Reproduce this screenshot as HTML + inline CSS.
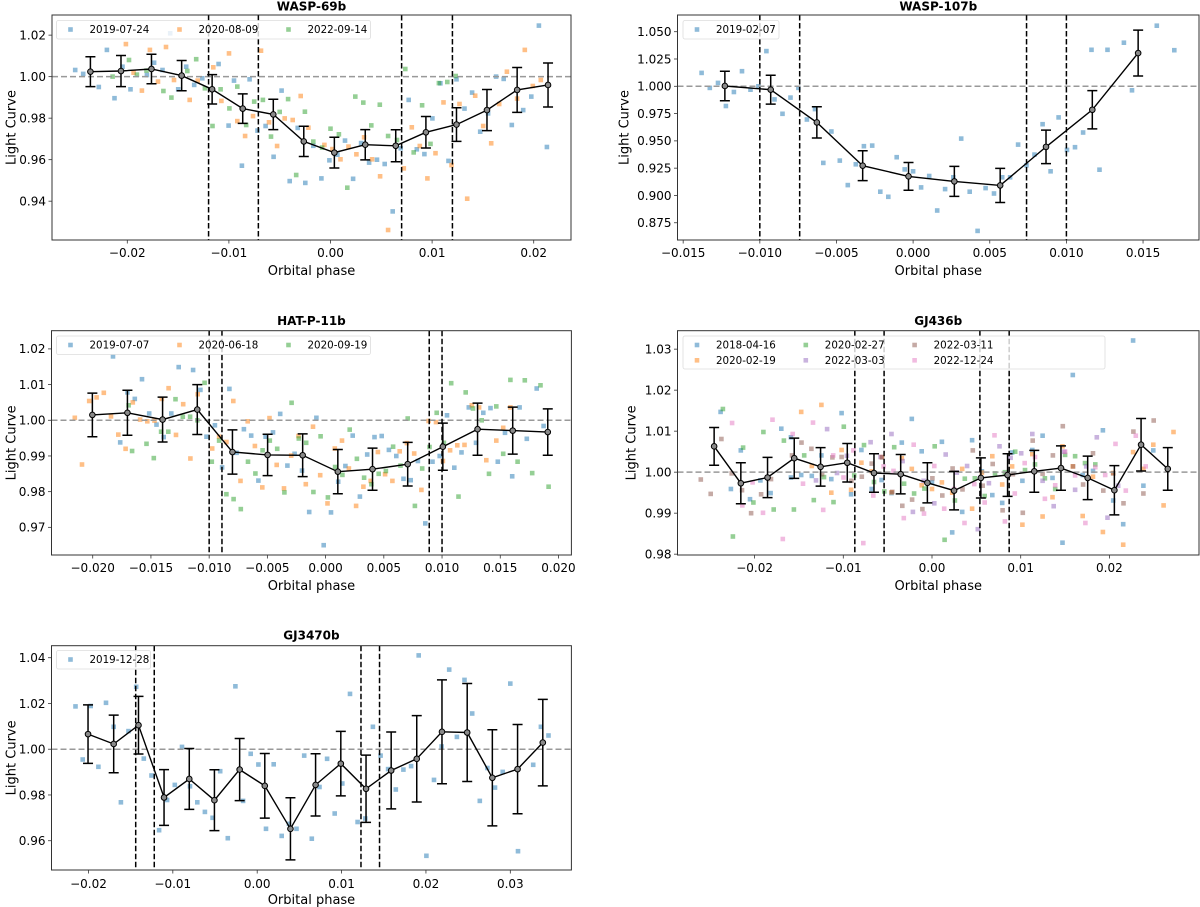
<!DOCTYPE html>
<html><head><meta charset="utf-8"><style>
html,body{margin:0;padding:0;background:#fff;}
svg{display:block;font-family:"DejaVu Sans","Liberation Sans",sans-serif;}
</style></head><body>
<svg id="fig" width="1200" height="907" viewBox="0 0 1200 907"></svg>
<script>
// ===== WASP-69b =====
const w69_b_x=[-0.02513,-0.02434,-0.0228,-0.02201,-0.02126,-0.02047,-0.01968,-0.01807,-0.01736,-0.01653,-0.01578,-0.01499,-0.0142,-0.01341,-0.01262,-0.01101,-0.01003,-0.0095,-0.00872,-0.00796,-0.00718,-0.00639,-0.0056,-0.00481,-0.00402,-0.00323,-0.00248,-0.00169,-0.0009,-0.00011,0.00068,0.00143,0.00222,0.00301,0.0038,0.00458,0.00533,0.00612,0.00691,0.0077,0.00849,0.00924,0.01003,0.01082,0.01161,0.0124,0.01319,0.01394,0.01473,0.01551,0.0163,0.01705,0.01784,0.01897,0.01976,0.02051,0.0213];
const w69_b_y=[1.0032,1.0013,0.995,1.0129,0.9896,1.0048,0.9939,1.0008,1.0067,1.0032,1.0209,0.9939,1.0048,0.996,0.9992,1.0061,0.9764,0.9981,0.9571,0.9987,0.974,0.9762,0.9614,0.9933,0.9497,0.9753,0.9488,0.9667,0.951,0.9597,0.9624,0.9692,0.9508,0.968,0.9586,0.96,0.9579,0.9351,0.9655,0.9888,0.965,0.9627,0.9799,0.9968,0.9594,0.9987,0.9846,0.9923,0.9735,0.9823,1.0,0.9989,0.9767,0.9839,0.9904,1.0246,0.9661];
const w69_o_x=[-0.02014,-0.01938,-0.01856,-0.01777,-0.01698,-0.01619,-0.0154,-0.01386,-0.01307,-0.01153,-0.01074,-0.00999,-0.00917,-0.00841,-0.00763,-0.00684,-0.00605,-0.00526,-0.00451,-0.00372,-0.00293,-0.00218,-0.0006,0.00019,0.00098,0.00177,0.00255,0.00331,0.00409,0.00488,0.00567,0.00721,0.008,0.00879,0.00954,0.01033,0.01112,0.01191,0.0127,0.01345,0.01424,0.01503,0.01582,0.0166,0.01736,0.01837,0.01912,0.01991,0.0207];
const w69_o_y=[1.0157,1.0019,0.9933,1.0129,0.9976,1.0143,0.9984,0.9888,0.9981,1.0045,0.9883,1.0112,0.9786,0.9714,0.981,1.0125,0.978,0.9666,0.9799,0.9791,0.9907,0.9754,0.9671,0.9651,0.9602,0.9663,0.9626,0.9708,0.9602,0.952,0.9261,0.9558,0.9756,0.9666,0.951,0.9631,0.9876,0.9574,0.9868,0.9412,0.9908,0.9762,0.9679,0.9868,1.0024,0.9894,1.0129,0.9955,0.9984];
const w69_g_x=[-0.02145,-0.01983,-0.01905,-0.01811,-0.01645,-0.01566,-0.01409,-0.01322,-0.01236,-0.01161,-0.01082,-0.00995,-0.00917,-0.0083,-0.00751,-0.00665,-0.00586,-0.005,-0.00417,-0.00338,-0.00252,-0.00169,-0.00083,0,0.00083,0.00165,0.00244,0.00323,0.00402,0.00485,0.00567,0.00654,0.00736,0.00819,0.00902,0.00984,0.01067,0.0115,0.01232];
const w69_g_y=[1.0,1.008,1.001,1.0029,0.9931,0.9899,1.0027,1.0084,0.9944,0.9762,0.9939,0.9847,0.9952,0.9767,0.988,0.9888,0.9711,0.983,0.9892,0.9526,0.9831,0.9687,0.9658,0.9749,0.9722,0.9465,0.9904,0.9875,0.9765,0.9865,0.9714,0.9695,1.0037,0.9635,0.9862,0.9676,0.9969,0.9974,1.0003];
const w69_bin_x=[-0.02363,-0.02062,-0.01762,-0.01465,-0.01165,-0.00864,-0.00563,-0.00263,0.00038,0.00342,0.00642,0.00939,0.0124,0.0154,0.01837,0.02141];
const w69_bin_y=[1.0024,1.0027,1.0037,1.0005,0.9939,0.9846,0.9818,0.9688,0.9634,0.9672,0.9667,0.9732,0.9769,0.9839,0.9936,0.996];
const w69_bin_e=[0.0072,0.0075,0.0071,0.0073,0.0071,0.0071,0.0073,0.0073,0.0074,0.0073,0.0077,0.0076,0.0081,0.0099,0.0108,0.0106];
const w69_vlines=[-0.012,-0.0071,0.007,0.012];
const w69_legend=["2019-07-24","2020-08-09","2022-09-14"];
const w69_xticks=[-0.02,-0.01,0,0.01,0.02];
const w69_xlabels=["−0.02","−0.01","0.00","0.01","0.02"];
const w69_yticks=[0.94,0.96,0.98,1.0,1.02];
const w69_ylabels=["0.94","0.96","0.98","1.00","1.02"];

// ===== WASP-107b =====
const w107_b_x=[-0.0138,-0.01326,-0.01273,-0.01221,-0.01169,-0.01116,-0.01061,-0.01009,-0.00957,-0.00904,-0.00852,-0.008,-0.00748,-0.00693,-0.0064,-0.00586,-0.00533,-0.00478,-0.00426,-0.00374,-0.00321,-0.00267,-0.00214,-0.00162,-0.00107,-0.00055,0,0.00052,0.00105,0.00157,0.00209,0.00262,0.00314,0.00369,0.00421,0.00473,0.00528,0.00581,0.00633,0.00685,0.0074,0.00792,0.00845,0.00897,0.00949,0.01004,0.01056,0.01109,0.01164,0.01216,0.01268,0.01375,0.01428,0.0159,0.01704];
const w107_b_y=[1.0123,0.9985,1.0031,0.9819,0.9948,1.0138,0.9969,1.0,1.0322,0.988,0.9748,0.9896,0.9985,0.9696,0.9791,0.9298,0.9586,0.9319,0.9095,0.9285,0.9451,0.9457,0.9034,0.8988,0.935,0.9239,0.9221,0.9074,0.9178,0.8862,0.9058,0.9166,0.9521,0.9034,0.8675,0.9067,0.9018,0.9166,0.9166,0.9466,0.9276,0.9374,0.9653,0.9221,0.9715,0.9417,0.9442,0.9577,1.0334,0.9236,1.0334,1.0399,0.9963,1.0555,1.0331];
const w107_bin_x=[-0.01228,-0.00929,-0.00628,-0.00329,-0.0003,0.00269,0.00568,0.00867,0.01169,0.01468];
const w107_bin_y=[1.0003,0.9969,0.9669,0.9273,0.9175,0.9129,0.9092,0.9445,0.9785,1.0304];
const w107_bin_e=[0.0135,0.0132,0.0143,0.0137,0.0127,0.0137,0.0156,0.0153,0.0175,0.021];
const w107_vlines=[-0.01,-0.0074,0.0074,0.01];
const w107_legend=["2019-02-07"];
const w107_xticks=[-0.015,-0.01,-0.005,0,0.005,0.01,0.015];
const w107_xlabels=["−0.015","−0.010","−0.005","0.000","0.005","0.010","0.015"];
const w107_yticks=[0.875,0.9,0.925,0.95,0.975,1.0,1.025,1.05];
const w107_ylabels=["0.875","0.900","0.925","0.950","0.975","1.000","1.025","1.050"];

// ===== HAT-P-11b =====
const h11_b_x=[-0.01826,-0.01764,-0.01702,-0.01639,-0.01577,-0.01515,-0.01452,-0.0139,-0.01325,-0.01262,-0.01138,-0.01075,-0.01023,-0.00951,-0.00889,-0.00826,-0.00764,-0.00702,-0.00639,-0.00577,-0.00515,-0.00452,-0.0039,-0.00328,-0.00266,-0.00203,-0.00141,-0.00079,-0.00016,0.00046,0.00108,0.0017,0.00233,0.00295,0.00357,0.0042,0.00482,0.00544,0.00607,0.00669,0.00731,0.00793,0.00856,0.00918,0.0098,0.01043,0.01105,0.01167,0.0123,0.01292,0.01354,0.01416,0.01479,0.01541,0.01603,0.01666,0.01728,0.01813,0.01872];
const h11_b_y=[1.0179,0.9938,1.0078,1.006,1.0115,1.0019,0.9988,0.9953,1.0019,1.0149,1.0141,1.0085,0.9954,0.9986,0.9868,1.0088,0.9909,0.9975,0.9957,0.9831,0.9954,0.9966,1.0018,0.9873,0.9906,0.9859,0.9743,1.0007,0.965,0.9742,0.9828,0.9872,0.9957,0.9786,0.9904,0.9953,0.9956,0.9917,0.99,0.9836,0.9832,0.9886,0.9711,0.9884,0.99,1.0014,0.9867,0.991,1.0036,0.9937,1.0021,1.0034,0.9884,0.9965,0.9843,1.0036,0.9948,1.0089,0.9984];
const h11_o_x=[-0.02154,-0.02092,-0.0203,-0.01967,-0.01905,-0.01843,-0.0178,-0.01718,-0.01656,-0.01593,-0.01531,-0.01469,-0.01407,-0.01348,-0.01285,-0.01223,-0.01161,-0.01098,-0.00974,-0.00915,-0.00852,-0.00793,-0.00731,-0.00669,-0.00607,-0.00544,-0.00482,-0.0042,-0.00357,-0.00295,-0.00233,-0.0017,-0.00108,-0.00046,0.00016,0.00079,0.00141,0.002,0.00262,0.00325,0.00387,0.00449,0.00511,0.00574,0.00636,0.00698,0.00761,0.00823,0.00885,0.00948,0.01007,0.01069,0.01131,0.01193,0.01256,0.01318,0.0138,0.01466,0.01525,0.01587];
const h11_o_y=[1.0007,0.9876,1.0054,1.0064,1.0077,1.0011,0.996,0.992,1.005,1.0002,0.9997,0.9999,1.006,1.009,0.9959,1.0045,0.9893,1.0073,0.9921,0.9954,0.9939,1.0054,0.983,0.9997,0.9928,0.9812,1.0006,0.9875,0.9809,0.9901,0.9956,0.9821,0.9982,0.9846,0.9767,0.9921,0.9943,0.9865,0.976,0.9814,0.983,0.9911,0.9849,0.983,0.9913,0.9936,0.9907,0.9805,0.9998,0.9995,0.9886,0.9916,0.993,0.9931,1.0042,1.0036,0.9888,0.9943,0.9979,1.0036];
const h11_g_x=[-0.01692,-0.01662,-0.01538,-0.01475,-0.01413,-0.01351,-0.01289,-0.01226,-0.01164,-0.01102,-0.01039,-0.00977,-0.00915,-0.00852,-0.0079,-0.00728,-0.00666,-0.00603,-0.00541,-0.00479,-0.00416,-0.00354,-0.00292,-0.0023,-0.00167,-0.00105,-0.00043,0.0002,0.00082,0.00144,0.00207,0.00269,0.00331,0.00393,0.00456,0.00518,0.0058,0.00643,0.00705,0.00767,0.0083,0.00892,0.00954,0.01016,0.01079,0.01141,0.01203,0.01266,0.01341,0.01403,0.01466,0.01525,0.01587,0.01649,0.01711,0.01774,0.01846,0.01915];
const h11_g_y=[1.0042,0.9914,0.9934,0.9894,0.9968,0.9968,1.0059,1.001,1.001,1.0,1.0105,0.9884,0.9943,0.9793,0.9779,0.9751,0.9884,0.9851,0.9916,0.9943,0.992,0.9798,1.0049,0.9949,0.9937,0.9799,0.9955,0.9784,0.9869,0.9847,0.9974,0.9892,0.9839,0.9821,0.985,0.9858,0.9926,0.9873,1.0005,0.976,0.9865,0.9925,1.0021,0.9937,1.0104,0.9786,1.0078,1.0033,1.0,0.985,1.0039,0.9906,1.0113,0.9884,1.0112,0.9852,1.0098,0.9814];
const h11_bin_x=[-0.02003,-0.01702,-0.014,-0.01102,-0.008,-0.00498,-0.00197,0.00105,0.00403,0.00705,0.01007,0.01305,0.01607,0.01908];
const h11_bin_y=[1.0015,1.0021,1.0002,1.003,0.9911,0.9903,0.9902,0.9856,0.9863,0.9877,0.9926,0.9975,0.9971,0.9967];
const h11_bin_e=[0.0061,0.0063,0.0063,0.007,0.0062,0.0058,0.006,0.0062,0.0059,0.0061,0.0066,0.0073,0.0066,0.0065];
const h11_vlines=[-0.01,-0.0089,0.0089,0.01];
const h11_legend=["2019-07-07","2020-06-18","2020-09-19"];
const h11_xticks=[-0.02,-0.015,-0.01,-0.005,0,0.005,0.01,0.015,0.02];
const h11_xlabels=["−0.020","−0.015","−0.010","−0.005","0.000","0.005","0.010","0.015","0.020"];
const h11_yticks=[0.97,0.98,0.99,1.0,1.01,1.02];
const h11_ylabels=["0.97","0.98","0.99","1.00","1.01","1.02"];

// ===== GJ436b =====
const g436_1_x=[-0.02383,-0.02155,-0.02267,-0.02052,-0.01935,-0.01819,-0.01699,-0.01591,-0.01591,-0.01475,-0.01355,-0.01247,-0.01135,-0.01019,-0.00912,-0.00796,-0.0068,-0.00568,-0.00456,-0.0034,-0.00228,-0.00116,0,0.00112,0.00228,0.0034,0.00452,0.00563,0.0068,0.00791,0.00903,0.01019,0.01131,0.01247,0.01359,0.01471,0.01587,0.01699,0.01815,0.01927,0.02043,0.02155,0.02267,0.02383,0.02495];
const g436_1_y=[1.0147,1.0053,0.9959,0.9934,0.998,0.9949,1.0106,1.0085,0.9987,0.9993,0.9991,1.0041,0.9983,1.0144,0.9946,1.0054,0.9959,0.9981,0.9949,1.0072,1.013,1.0051,0.9975,1.0074,0.9853,0.9903,1.0078,1.0002,0.9944,0.9925,1.0048,0.9979,1.0054,1.0089,0.9986,0.9828,1.0237,0.9993,1.0003,1.0102,0.9931,0.9873,1.0321,0.9967,1.0053];
const g436_2_x=[-0.01475,-0.01355,-0.01247,-0.01135,-0.01019,-0.00912,-0.00796,-0.0068,-0.00568,-0.00456,-0.0034,-0.00228,-0.00116,0,0.00112,0.00228,0.0034,0.00452,0.00563,0.0068,0.00791,0.00903,0.01019,0.01131,0.01247,0.01359,0.01471,0.01587,0.01699,0.01815,0.01927,0.02043,0.02155,0.02267,0.02383,0.02495,0.02611,0.02723];
const g436_2_y=[1.0147,1.0015,1.0164,0.995,1.0054,0.9957,1.0023,1.0002,1.0037,0.9951,1.0034,1.0008,0.9968,0.9959,0.9975,0.995,1.0008,0.9911,0.9999,1.0039,0.997,1.0014,0.9872,1.0044,0.9892,0.9939,1.0063,1.0014,0.9893,0.9989,0.9854,0.9998,0.9823,1.0049,1.0008,1.0067,0.9919,1.0098];
const g436_3_x=[-0.02357,-0.02245,-0.02129,-0.02013,-0.01901,-0.01785,-0.01669,-0.01557,-0.01441,-0.01333,-0.01217,-0.0111,-0.00994,-0.00877,-0.00766,-0.00654,-0.00538,-0.00426,-0.00314,-0.00202,-0.00086,0.0003,0.00142,0.00258,0.0037,0.00482,0.00594,0.0071,0.00822,0.00938,0.01049,0.01161,0.01273,0.01389,0.01501,0.01613,0.01725,0.01841];
const g436_3_y=[1.0154,0.9843,1.006,0.9926,1.0098,0.9909,1.0077,0.9909,1.0041,0.9932,0.9988,0.9927,1.0111,0.9992,1.0066,0.9976,0.9953,1.0061,0.9972,0.9948,0.996,1.0063,0.9835,0.9931,0.9984,0.9985,0.9942,0.9997,1.0,1.005,1.0005,1.0019,0.9985,0.9959,1.0042,1.0039,1.0022,1.0019];
const g436_4_x=[-0.01308,-0.01183,-0.01071,-0.00959,-0.00692,-0.00581,-0.00456,-0.00331,-0.00215,-0.00095,0.00026,0.00155,0.0028,0.00396,0.00516,0.00641,0.00761,0.00886,0.01006,0.01131,0.01247,0.01372,0.01492,0.01613,0.01738,0.01858,0.01978,0.02099];
const g436_4_y=[0.998,1.0105,0.9998,1.004,1.0073,1.0037,1.0093,1.0027,0.9903,0.9979,0.9924,1.0043,0.9999,1.0015,0.9861,0.9973,1.0063,1.0035,1.0046,1.0093,0.9979,0.9917,1.005,0.9957,1.0014,1.0085,0.9889,0.9967];
const g436_5_x=[-0.02606,-0.02495,-0.02374,-0.02258,-0.02142,-0.02039,-0.01927,-0.01815,-0.01578,-0.01471,-0.01359,-0.01239,-0.01123,-0.01019,-0.00908,-0.00791,-0.0068,-0.00563,-0.00447,-0.00335,-0.00224,-0.00108,0.00004,0.00116,0.00232,0.00344,0.0046,0.00572,0.00684,0.00796,0.00912,0.01024,0.01135,0.01247,0.01363,0.01475,0.01591,0.01703,0.01815,0.01931,0.02043,0.02159,0.02271,0.02383,0.02499];
const g436_5_y=[0.9982,0.9947,1.0081,0.9997,0.9956,0.99,0.9946,0.9983,1.0041,1.0072,1.0057,0.9995,1.0036,1.0037,0.9979,0.9989,1.0021,1.0036,0.9952,0.9918,0.9933,0.991,0.9985,0.9943,1.0009,0.9958,1.0053,0.9967,1.002,0.9907,0.9995,0.9901,1.0077,0.9996,1.0041,1.0112,1.0014,0.997,1.0046,0.9955,0.9997,0.9924,1.0099,0.9948,1.0126];
const g436_6_x=[-0.02254,-0.02138,-0.02022,-0.01905,-0.01798,-0.01682,-0.0157,-0.01454,-0.01342,-0.01226,-0.01114,-0.00998,-0.00886,-0.00774,-0.00662,-0.00546,-0.00434,-0.00318,-0.00206,-0.0009,0.00026,0.00138,0.00249,0.00366,0.00477,0.00594,0.00705,0.00822,0.00933,0.01045,0.01161,0.01273,0.01389,0.01501,0.01613,0.01729,0.01841,0.01953,0.02069,0.02185,0.02297,0.02409];
const g436_6_y=[1.012,0.9919,0.9975,0.9901,1.0128,0.9837,1.0093,0.9972,1.0121,0.9908,1.0041,0.9987,1.0053,0.9827,0.9943,1.0014,1.0003,0.9888,1.0067,0.9899,1.0015,0.9911,0.9959,0.9876,0.9971,0.9926,1.009,0.988,0.9948,1.0022,1.0037,0.9935,0.9968,1.005,0.9992,0.9876,1.0012,0.9993,1.0069,0.9955,1.0089,1.0014];
const g436_bin_x=[-0.02456,-0.02155,-0.01854,-0.01553,-0.01256,-0.00955,-0.00654,-0.00353,-0.00052,0.00249,0.00551,0.00852,0.01153,0.01454,0.01755,0.02056,0.02357,0.02658];
const g436_bin_y=[1.0063,0.9973,0.9987,1.0034,1.0013,1.0023,0.9998,0.9995,0.9974,0.9955,0.9986,0.9993,1.0002,1.001,0.9986,0.9956,1.0067,1.0008];
const g436_bin_e=[0.0046,0.005,0.0049,0.0049,0.0047,0.0047,0.0047,0.0048,0.0049,0.0047,0.0049,0.0052,0.0051,0.0054,0.0053,0.006,0.0064,0.0052];
const g436_vlines=[-0.0087,-0.0054,0.0054,0.0087];
const g436_legend=["2018-04-16","2020-02-19","2020-02-27","2022-03-03","2022-03-11","2022-12-24"];
const g436_xticks=[-0.02,-0.01,0,0.01,0.02];
const g436_xlabels=["−0.02","−0.01","0.00","0.01","0.02"];
const g436_yticks=[0.98,0.99,1.0,1.01,1.02,1.03];
const g436_ylabels=["0.98","0.99","1.00","1.01","1.02","1.03"];

// ===== GJ3470b =====
const g3470_b_x=[-0.02154,-0.02068,-0.01973,-0.01882,-0.01792,-0.01701,-0.01615,-0.01525,-0.01434,-0.01344,-0.01253,-0.01163,-0.01068,-0.00977,-0.00891,-0.00796,-0.0071,-0.0062,-0.00529,-0.00439,-0.00348,-0.00258,-0.00167,-0.00077,0.00014,0.00104,0.00195,0.0029,0.00376,0.00466,0.00557,0.00647,0.00738,0.00828,0.00919,0.01009,0.011,0.0119,0.01281,0.01371,0.01462,0.01552,0.01643,0.01733,0.01824,0.01914,0.02005,0.02095,0.02186,0.02276,0.02367,0.02457,0.02548,0.02638,0.02729,0.02819,0.0291,0.03,0.03091,0.03271,0.03362,0.03452];
const g3470_b_y=[1.0187,0.9955,1.0189,0.9923,1.0203,1.0098,0.9768,1.0079,1.0273,0.9959,0.9885,0.9646,0.9778,0.9844,1.001,0.9838,0.9768,0.9726,0.97,0.9904,0.9611,1.0275,0.9774,0.998,0.9933,0.9652,0.9934,0.9621,0.9674,0.9652,0.9972,0.9609,0.9835,0.9958,0.9719,0.985,1.0242,0.9682,0.9697,1.0098,0.9972,0.9913,0.9824,0.9911,0.9926,1.041,0.9534,0.9866,1.0012,1.0348,1.0054,1.0303,1.0156,0.9774,0.9918,0.9832,0.9901,1.0287,0.9554,0.9932,1.0098,1.006];
const g3470_bin_x=[-0.02005,-0.01701,-0.01407,-0.01104,-0.00805,-0.00507,-0.00208,0.0009,0.00394,0.00692,0.00991,0.0129,0.01588,0.01891,0.0219,0.02489,0.02787,0.03086,0.03385];
const g3470_bin_y=[1.0066,1.0023,1.0105,0.9789,0.987,0.9777,0.9911,0.984,0.9652,0.9844,0.9937,0.9827,0.9907,0.9958,1.0076,1.0073,0.9875,0.9913,1.0029];
const g3470_bin_e=[0.0128,0.0126,0.0126,0.0122,0.0133,0.0133,0.0136,0.0141,0.0136,0.0136,0.0141,0.0147,0.0168,0.0189,0.0227,0.0214,0.021,0.0195,0.0189];
const g3470_vlines=[-0.0144,-0.0122,0.0123,0.0145];
const g3470_legend=["2019-12-28"];
const g3470_xticks=[-0.02,-0.01,0,0.01,0.02,0.03];
const g3470_xlabels=["−0.02","−0.01","0.00","0.01","0.02","0.03"];
const g3470_yticks=[0.96,0.98,1.0,1.02,1.04];
const g3470_ylabels=["0.96","0.98","1.00","1.02","1.04"];

const COLORS=["#1f77b4","#ff7f0e","#2ca02c","#9467bd","#8c564b","#e377c2"];
const NS="http://www.w3.org/2000/svg";
const svg=document.getElementById("fig");
function mk(tag,attrs,parent){const e=document.createElementNS(NS,tag);for(const k in attrs)e.setAttribute(k,attrs[k]);(parent||svg).appendChild(e);return e;}

const panels=[
 {id:"wasp-69b",title:"WASP-69b",box:[52,15,571,240],xr:[-0.02741,0.02367],yr:[0.9213,1.0297],
  series:[[w69_b_x,w69_b_y,0],[w69_o_x,w69_o_y,1],[w69_g_x,w69_g_y,2]],bx:w69_bin_x,by:w69_bin_y,be:w69_bin_e,vl:w69_vlines,
  leg:w69_legend,legpos:{x:56.5,y:20.5,w:314,h:18.5,cols:3,colw:109,rows:1},
  xt:w69_xticks,xl:w69_xlabels,yt:w69_yticks,yl:w69_ylabels,titleY:10.5,tickY:257,xlabY:275,ylabX:12},
 {id:"wasp-107b",title:"WASP-107b",box:[677.5,15,1199,240],xr:[-0.01537,0.01865],yr:[0.8592,1.0653],
  series:[[w107_b_x,w107_b_y,0]],bx:w107_bin_x,by:w107_bin_y,be:w107_bin_e,vl:w107_vlines,
  leg:w107_legend,legpos:{x:683,y:20.5,w:96,h:18.5,cols:1,colw:109,rows:1},
  xt:w107_xticks,xl:w107_xlabels,yt:w107_yticks,yl:w107_ylabels,titleY:10.5,tickY:257,xlabY:275,ylabX:625},
 {id:"hat-p-11b",title:"HAT-P-11b",box:[51.5,330.7,571.4,555],xr:[-0.02354,0.02111],yr:[0.96225,1.0251],
  series:[[h11_b_x,h11_b_y,0],[h11_o_x,h11_o_y,1],[h11_g_x,h11_g_y,2]],bx:h11_bin_x,by:h11_bin_y,be:h11_bin_e,vl:h11_vlines,
  leg:h11_legend,legpos:{x:56.5,y:336,w:314,h:18.5,cols:3,colw:109,rows:1},
  xt:h11_xticks,xl:h11_xlabels,yt:h11_yticks,yl:h11_ylabels,titleY:325,tickY:572,xlabY:590,ylabX:12},
 {id:"gj436b",title:"GJ436b",box:[677.5,330.7,1199,555],xr:[-0.02869,0.0301],yr:[0.9798,1.0345],
  series:[[g436_1_x,g436_1_y,0],[g436_2_x,g436_2_y,1],[g436_3_x,g436_3_y,2],[g436_4_x,g436_4_y,3],[g436_5_x,g436_5_y,4],[g436_6_x,g436_6_y,5]],
  bx:g436_bin_x,by:g436_bin_y,be:g436_bin_e,vl:g436_vlines,
  leg:g436_legend,legpos:{x:683,y:336,w:422,h:33,cols:4,colw:108.8,rows:2},
  xt:g436_xticks,xl:g436_xlabels,yt:g436_yticks,yl:g436_ylabels,titleY:325,tickY:572,xlabY:590,ylabX:632},
 {id:"gj3470b",title:"GJ3470b",box:[51.5,645.7,571.4,870],xr:[-0.02438,0.03724],yr:[0.9472,1.04525],
  series:[[g3470_b_x,g3470_b_y,0]],bx:g3470_bin_x,by:g3470_bin_y,be:g3470_bin_e,vl:g3470_vlines,
  leg:g3470_legend,legpos:{x:56.5,y:650.5,w:94,h:18.5,cols:1,colw:109,rows:1},
  xt:g3470_xticks,xl:g3470_xlabels,yt:g3470_yticks,yl:g3470_ylabels,titleY:639.5,tickY:888,xlabY:904,ylabX:12}
];

panels.forEach(p=>{
  const [L,T,R,B]=p.box;
  const sx=v=>L+(v-p.xr[0])/(p.xr[1]-p.xr[0])*(R-L);
  const sy=v=>B-(v-p.yr[0])/(p.yr[1]-p.yr[0])*(B-T);
  const g=mk("g",{});
  
  
  const clipId="clip-"+p.id;
  const cp=mk("clipPath",{id:clipId},g);mk("rect",{x:L,y:T,width:R-L,height:B-T},cp);
  const plot=mk("g",{"clip-path":"url(#"+clipId+")"},g);
  
  
  // scatter
  p.series.forEach((s,si)=>{
    const sg=mk("g",{fill:COLORS[s[2]],"fill-opacity":"0.5"},plot);
    
    
    s[0].forEach((xv,i)=>{
      const r=mk("rect",{x:(sx(xv)-2.3).toFixed(1),y:(sy(s[1][i])-2.3).toFixed(1),width:4.6,height:4.6},sg);
      
      
    });
  });
  // reference line at 1
  const ref=mk("line",{x1:L,x2:R,y1:sy(1),y2:sy(1),stroke:"#999","stroke-width":1.5,"stroke-dasharray":"6,3"},plot);
  
  
  // vertical lines
  p.vl.forEach(v=>{
    const l=mk("line",{x1:sx(v),x2:sx(v),y1:T,y2:B,stroke:"#000","stroke-width":1.5,"stroke-dasharray":"5.5,2.5"},plot);
    
    
  });
  // binned line
  const pts=p.bx.map((x,i)=>sx(x).toFixed(1)+","+sy(p.by[i]).toFixed(1)).join(" ");
  const pl=mk("polyline",{points:pts,fill:"none",stroke:"#000","stroke-width":1.4},plot);
  
  
  p.bx.forEach((x,i)=>{
    const cx=sx(x),y1=sy(p.by[i]+p.be[i]),y2=sy(p.by[i]-p.be[i]);
    const eb=mk("path",{d:`M${cx},${y1}V${y2}M${cx-5},${y1}H${cx+5}M${cx-5},${y2}H${cx+5}`,stroke:"#000","stroke-width":1.5,fill:"none"},plot);
    
    
    const c=mk("circle",{cx:cx,cy:sy(p.by[i]),r:2.8,fill:"#8a8a8a",stroke:"#000","stroke-width":1},plot);
    
    
  });
  // frame
  const fr=mk("rect",{x:L,y:T,width:R-L,height:B-T,fill:"none",stroke:"#333","stroke-width":1},g);
  
  
  // ticks
  p.xt.forEach((v,i)=>{
    const x=sx(v);
    mk("line",{x1:x,x2:x,y1:B,y2:B+3.5,stroke:"#333","stroke-width":0.8},g);
    const t=mk("text",{x:x,y:p.tickY,"text-anchor":"middle","font-size":12,fill:"#000"},g);
    t.textContent=p.xl[i];
    
    
  });
  p.yt.forEach((v,i)=>{
    const y=sy(v);
    mk("line",{x1:L-3.5,x2:L,y1:y,y2:y,stroke:"#333","stroke-width":0.8},g);
    const t=mk("text",{x:L-6,y:y+4.3,"text-anchor":"end","font-size":12,fill:"#000"},g);
    t.textContent=p.yl[i];
    
    
  });
  const ttl=mk("text",{x:(L+R)/2,y:p.titleY,"text-anchor":"middle","font-size":12,"font-weight":"bold"},g);
  ttl.textContent=p.title;
  
  
  const xlab=mk("text",{x:(L+R)/2,y:p.xlabY,"text-anchor":"middle","font-size":13},g);
  xlab.textContent="Orbital phase";
  
  
  const cy=(T+B)/2;
  const ylab=mk("text",{x:p.ylabX,y:cy,"text-anchor":"middle","font-size":13,transform:`rotate(-90 ${p.ylabX} ${cy})`,"dominant-baseline":"central"},g);
  ylab.textContent="Light Curve";
  
  
  // legend
  const lp=p.legpos;
  const lg=mk("g",{},g);
  
  
  mk("rect",{x:lp.x,y:lp.y,width:lp.w,height:lp.h,rx:2,fill:"#fff","fill-opacity":0.8,stroke:"#ddd","stroke-width":0.8},lg);
  p.leg.forEach((lab,i)=>{
    const col=Math.floor(i/lp.rows),row=i%lp.rows;
    const mx=lp.x+14+col*lp.colw, my=lp.y+9+row*15.3;
    const e=mk("g",{},lg);
    
    
    mk("rect",{x:mx-2.3,y:my-2.3,width:4.6,height:4.6,fill:COLORS[i],"fill-opacity":0.5},e);
    const t=mk("text",{x:mx+19,y:my+3.7,"font-size":10.3},e);
    t.textContent=lab;
  });
});
</script>
</body></html>
